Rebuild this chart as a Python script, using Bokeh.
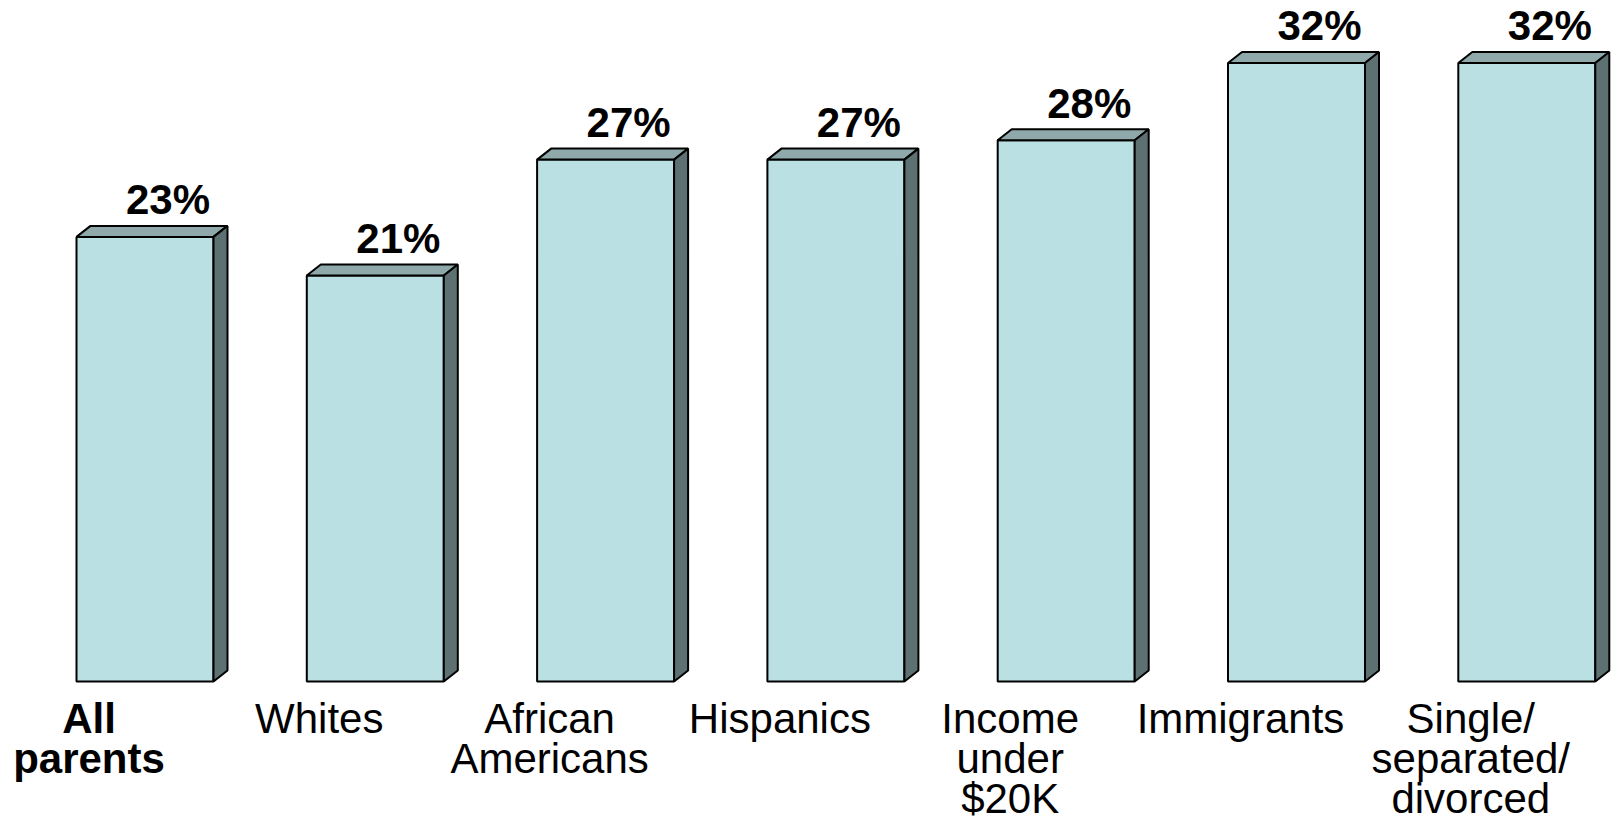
from bokeh.plotting import figure
from bokeh.models import Range1d
from bokeh.core.properties import value
from bokeh.embed import file_html
from bokeh.resources import INLINE

# ---- data ----
categories = ["All\nparents", "Whites", "African\nAmericans", "Hispanics",
              "Income\nunder\n$20K", "Immigrants", "Single/\nseparated/\ndivorced"]
values = [23, 21, 27, 27, 28, 32, 32]
value_labels = ["23%", "21%", "27%", "27%", "28%", "32%", "32%"]

# ---- layout parameters (pixels / scale) ----
W, H = 1614, 824
PITCH = 230.3          # px per category
X0 = 144.5             # px of first bar's centre
PX_PER_UNIT = 19.33    # px per percentage point
BASE = 681.0           # px of zero line (from top)
BAR_W = 137 / PITCH
DX = 14 / PITCH
DY = 11 / PX_PER_UNIT
LABEL_SHIFT = -56 / PITCH
bold = [True, False, False, False, False, False, False]

FRONT = "#BAE0E3"
TOP = "#8FA9AA"
SIDE = "#5E7172"
FONT = "Liberation Sans"

p = figure(width=W, height=H, output_backend="svg", toolbar_location=None,
           x_range=Range1d((0 - X0) / PITCH, (W - X0) / PITCH),
           y_range=Range1d((BASE - H) / PX_PER_UNIT, BASE / PX_PER_UNIT),
           min_border=0, outline_line_color=None)
p.xaxis.visible = False
p.yaxis.visible = False
p.xgrid.visible = False
p.ygrid.visible = False
p.background_fill_color = "white"
p.border_fill_color = "white"

idx = list(range(len(values)))
left = [i - BAR_W / 2 for i in idx]
right = [i + BAR_W / 2 for i in idx]

# front faces
p.quad(left=left, right=right, bottom=[0] * len(values), top=values,
       fill_color=FRONT, line_color="black", line_width=2)

# top faces
top_xs = [[l, r, r + DX, l + DX] for l, r in zip(left, right)]
top_ys = [[v, v, v + DY, v + DY] for v in values]
p.patches(top_xs, top_ys, fill_color=TOP, line_color="black", line_width=2)

# side faces
side_xs = [[r, r + DX, r + DX, r] for r in right]
side_ys = [[0, DY, v + DY, v] for v in values]
p.patches(side_xs, side_ys, fill_color=SIDE, line_color="black", line_width=2)

# value labels
p.text(x=[i + 23 / PITCH for i in idx], y=[v + 37 / PX_PER_UNIT for v in values],
       text=value_labels, text_font=value(FONT), text_font_size="42px",
       text_font_style="bold", text_align="center", text_baseline="alphabetic",
       text_color="black")

# category labels, one line at a time
for i, cat in enumerate(categories):
    lines = cat.split("\n")
    xs = [i + LABEL_SHIFT] * len(lines)
    ys = [(BASE - 718 - 40 * k) / PX_PER_UNIT for k in range(len(lines))]
    p.text(x=xs, y=ys, text=lines,
           text_font=value(FONT), text_font_size="42px",
           text_font_style="bold" if bold[i] else "normal",
           text_align="center", text_baseline="alphabetic", text_color="black")

open("out.html", "w").write(file_html(p, INLINE))
